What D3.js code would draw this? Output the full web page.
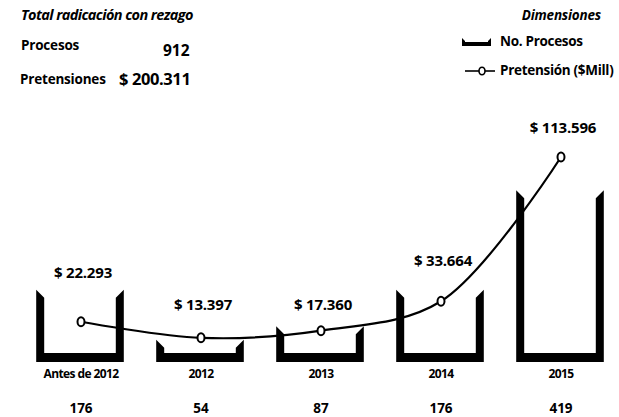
<!DOCTYPE html>
<html>
<head>
<meta charset="utf-8">
<script src="https://cdn.jsdelivr.net/npm/d3@7"></script>
<style>
  body { margin: 0; background: #fff; }
  text { font-family: "Open Sans", "DejaVu Sans", sans-serif; font-weight: 700; fill: #000; }
</style>
</head>
<body>
<script>
'use strict';

// chart data
const categories = ["Antes de 2012", "2012", "2013", "2014", "2015"];
const procesos = [176, 54, 87, 176, 419];
const pretension = [22293, 13397, 17360, 33664, 113596];
const pretensionLabels = ["$ 22.293", "$ 13.397", "$ 17.360", "$ 33.664", "$ 113.596"];
const totalProcesos = "912";
const totalPretensiones = "$ 200.311";

// how far each value label sits above its point (layout only)
const labelLift = [44, 28, 21, 35, 24];

const width = 619, height = 417;
const baseY = 362, topY = 157;

const svg = d3.select('body').append('svg')
    .attr('width', width)
    .attr('height', height);

// scales
const x = d3.scaleBand()
    .domain(categories)
    .range([20, 620])
    .paddingInner(0.27)
    .paddingOuter(0.135);

const yBar = d3.scaleLinear().domain([0, 500]).range([baseY, topY]);
const yLine = d3.scaleLinear().domain([0, 113596]).range([baseY, topY]);

// open-topped "cup" shape for a bar
function cupPath(x0, x1, top, bottom, t, tb) {
    return `M${x0},${top}L${x0},${bottom}L${x1},${bottom}L${x1},${top}` +
        `L${x1 - t},${top + t}L${x1 - t},${bottom - tb}L${x0 + t},${bottom - tb}L${x0 + t},${top + t}Z`;
}

// bars
svg.selectAll('.bar')
    .data(procesos)
    .enter()
    .append('path')
    .attr('class', 'bar')
    .attr('fill', '#000')
    .attr('d', (d, i) => {
        let x0 = x(categories[i]);
        return cupPath(x0, x0 + x.bandwidth(), yBar(d), baseY, 8, 9);
    });

// line
const cx = (d, i) => x(categories[i]) + x.bandwidth() / 2 + 1;
const line = d3.line()
    .x(cx)
    .y(d => yLine(d))
    .curve(d3.curveCatmullRom.alpha(0.5));

svg.append('path')
    .datum(pretension)
    .attr('d', line)
    .attr('fill', 'none')
    .attr('stroke', '#000')
    .attr('stroke-width', 2.2);

svg.selectAll('.dot')
    .data(pretension)
    .enter()
    .append('ellipse')
    .attr('cx', cx)
    .attr('cy', d => yLine(d))
    .attr('rx', 3.5)
    .attr('ry', 4.5)
    .attr('fill', '#fff')
    .attr('stroke', '#000')
    .attr('stroke-width', 2);

// value labels
svg.selectAll('.vlabel')
    .data(pretensionLabels)
    .enter()
    .append('text')
    .attr('x', (d, i) => cx(d, i) + 2)
    .attr('y', (d, i) => yLine(pretension[i]) - labelLift[i])
    .attr('text-anchor', 'middle')
    .style('font-size', '15px')
    .attr('letter-spacing', '-0.2')
    .text(d => d);

// category axis labels
svg.selectAll('.cat')
    .data(categories)
    .enter()
    .append('text')
    .attr('x', (d, i) => cx(d, i))
    .attr('y', 378)
    .attr('text-anchor', 'middle')
    .attr('letter-spacing', '-0.6')
    .style('font-size', '12px')
    .text(d => d);

// count labels
svg.selectAll('.count')
    .data(procesos)
    .enter()
    .append('text')
    .attr('x', (d, i) => cx(d, i))
    .attr('y', 413)
    .attr('text-anchor', 'middle')
    .style('font-size', '13.5px')
    .text(d => d);

// header block
svg.append('text')
    .attr('x', 21).attr('y', 20)
    .style('font-size', '14.5px')
    .style('font-style', 'italic')
    .attr('letter-spacing', '-0.6')
    .text('Total radicación con rezago');

svg.append('text')
    .attr('x', 21).attr('y', 50)
    .style('font-size', '13.5px')
    .attr('letter-spacing', '-0.2')
    .text('Procesos');

svg.append('text')
    .attr('x', 163).attr('y', 56)
    .style('font-size', '15.5px')
    .text(totalProcesos);

svg.append('text')
    .attr('x', 20).attr('y', 84)
    .style('font-size', '13.5px')
    .attr('letter-spacing', '-0.2')
    .text('Pretensiones');

svg.append('text')
    .attr('x', 119).attr('y', 85)
    .style('font-size', '16.5px')
    .attr('letter-spacing', '-0.4')
    .text(totalPretensiones);

// legend
svg.append('text')
    .attr('x', 601).attr('y', 20)
    .attr('text-anchor', 'end')
    .style('font-size', '13.5px')
    .style('font-style', 'italic')
    .attr('letter-spacing', '-0.2')
    .text('Dimensiones');

svg.append('path')
    .attr('fill', '#000')
    .attr('d', cupPath(462, 491, 38, 46, 3, 4));

svg.append('text')
    .attr('x', 500).attr('y', 46)
    .style('font-size', '13.5px')
    .attr('letter-spacing', '-0.3')
    .text('No. Procesos');

svg.append('line')
    .attr('x1', 465).attr('x2', 495)
    .attr('y1', 71).attr('y2', 71)
    .attr('stroke', '#000')
    .attr('stroke-width', 1.6);

svg.append('ellipse')
    .attr('cx', 482).attr('cy', 71)
    .attr('rx', 3).attr('ry', 3.8)
    .attr('fill', '#fff')
    .attr('stroke', '#000')
    .attr('stroke-width', 1.6);

svg.append('text')
    .attr('x', 500).attr('y', 75)
    .style('font-size', '13.5px')
    .attr('letter-spacing', '-0.3')
    .text('Pretensión ($Mill)');
</script>
</body>
</html>
